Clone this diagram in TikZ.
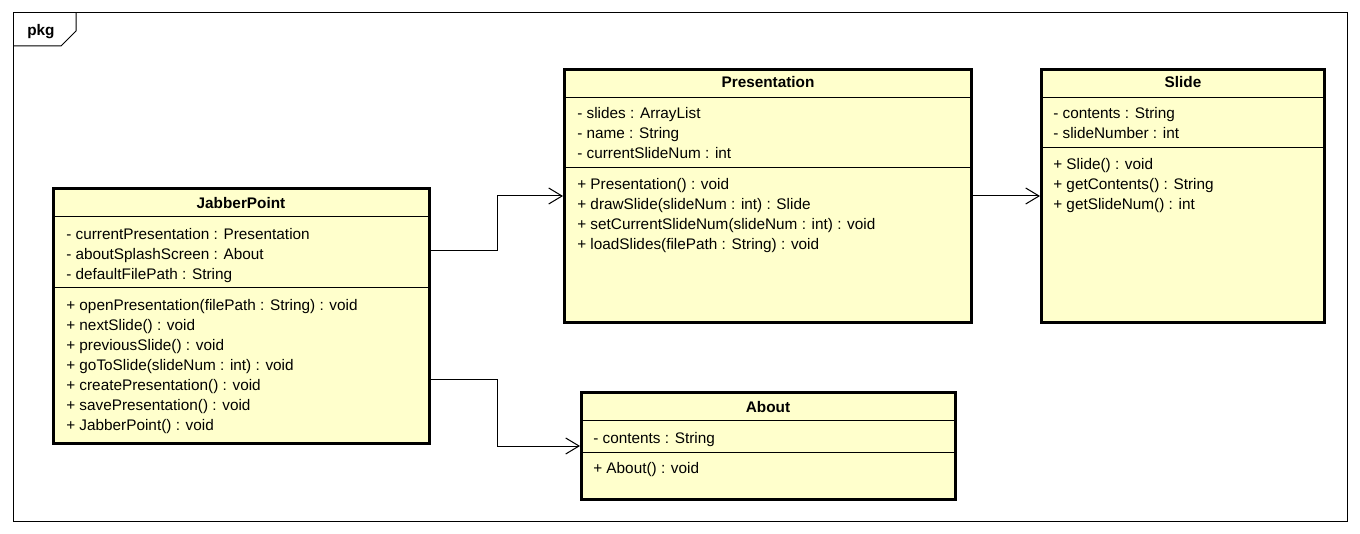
\documentclass[tikz,border=0pt]{standalone}
\usepackage{fontspec}
\setmainfont{Liberation Sans}
\usetikzlibrary{arrows.meta}
\definecolor{classyellow}{HTML}{FFFFCC}

\begin{document}
\begin{tikzpicture}[x=0.75pt, y=-0.75pt,
    classbox/.style={draw, line width=2.25pt, fill=classyellow, anchor=north west, inner sep=0pt},
    member/.style={anchor=base west, inner sep=0pt, font=\fontsize{11.5}{14}\selectfont},
    classname/.style={anchor=base, inner sep=0pt, font=\fontsize{11.5}{14}\selectfont\bfseries},
    assoc/.style={line width=0.75pt, -{Straight Barb[length=10pt, width=12pt, line width=0.75pt]}}]
    \useasboundingbox (0,0) rectangle (1360,534);

    % Package frame
    \draw[line width=0.75pt] (13,13) rectangle (1347,521);
    \draw[line width=0.75pt] (13,46) -- (61,46) -- (76,31) -- (76,13);
    \node[classname, anchor=base west] (pkg) at (27,36) {pkg};

    % Class boxes
    \node[classbox, minimum width=282pt, minimum height=191.25pt] (jp) at (52,187) {};
    \node[classbox, minimum width=305.25pt, minimum height=189.75pt] (pres) at (563,68) {};
    \node[classbox, minimum width=212.25pt, minimum height=189.75pt] (slide) at (1040,68) {};
    \node[classbox, minimum width=280.5pt, minimum height=80.25pt] (about) at (580,391) {};

    % Compartment lines
    \foreach \c/\h/\a in {jp/22.5/75.75, pres/22.5/75, slide/22.5/60, about/22.5/45.75} {
        \draw[line width=0.75pt] ([yshift=-\h pt]\c.north west) -- ([yshift=-\h pt]\c.north east);
        \draw[line width=0.75pt] ([yshift=-\a pt]\c.north west) -- ([yshift=-\a pt]\c.north east);
    }

    % JabberPoint
    \node[classname] (jp-name) at (241,209) {JabberPoint};
    \foreach \txt [count=\i] in {- currentPresentation : Presentation,
                                 - aboutSplashScreen : About,
                                 - defaultFilePath : String}
        \node[member] (jp-a\i) at (66,{220+20*\i}) {\txt};
    \foreach \txt [count=\i] in {+ openPresentation(filePath : String) : void,
                                 + nextSlide() : void,
                                 + previousSlide() : void,
                                 + goToSlide(slideNum : int) : void,
                                 + createPresentation() : void,
                                 + savePresentation() : void,
                                 + JabberPoint() : void}
        \node[member] (jp-m\i) at (66,{291+20*\i}) {\txt};

    % Presentation
    \node[classname] (pres-name) at (768,88) {Presentation};
    \foreach \txt [count=\i] in {- slides : ArrayList,
                                 - name : String,
                                 - currentSlideNum : int}
        \node[member] (pres-a\i) at (577,{99+20*\i}) {\txt};
    \foreach \txt [count=\i] in {+ Presentation() : void,
                                 + drawSlide(slideNum : int) : Slide,
                                 + setCurrentSlideNum(slideNum : int) : void,
                                 + loadSlides(filePath : String) : void}
        \node[member] (pres-m\i) at (577,{170+20*\i}) {\txt};

    % Slide
    \node[classname] (slide-name) at (1183,88) {Slide};
    \foreach \txt [count=\i] in {- contents : String,
                                 - slideNumber : int}
        \node[member] (slide-a\i) at (1053,{99+20*\i}) {\txt};
    \foreach \txt [count=\i] in {+ Slide() : void,
                                 + getContents() : String,
                                 + getSlideNum() : int}
        \node[member] (slide-m\i) at (1053,{150+20*\i}) {\txt};

    % About
    \node[classname] (about-name) at (768,412) {About};
    \node[member] (about-a1) at (593,443) {- contents : String};
    \node[member] (about-m1) at (593,474) {+ About() : void};

    % Associations
    \draw[assoc] ([yshift=48.75pt]jp.east) -- ++(66,0) |- (pres.west);
    \draw[assoc] ([yshift=-48pt]jp.east) -- ++(66,0) |- (about.west);
    \draw[assoc] (pres.east) -- (slide.west);
\end{tikzpicture}
\end{document}
